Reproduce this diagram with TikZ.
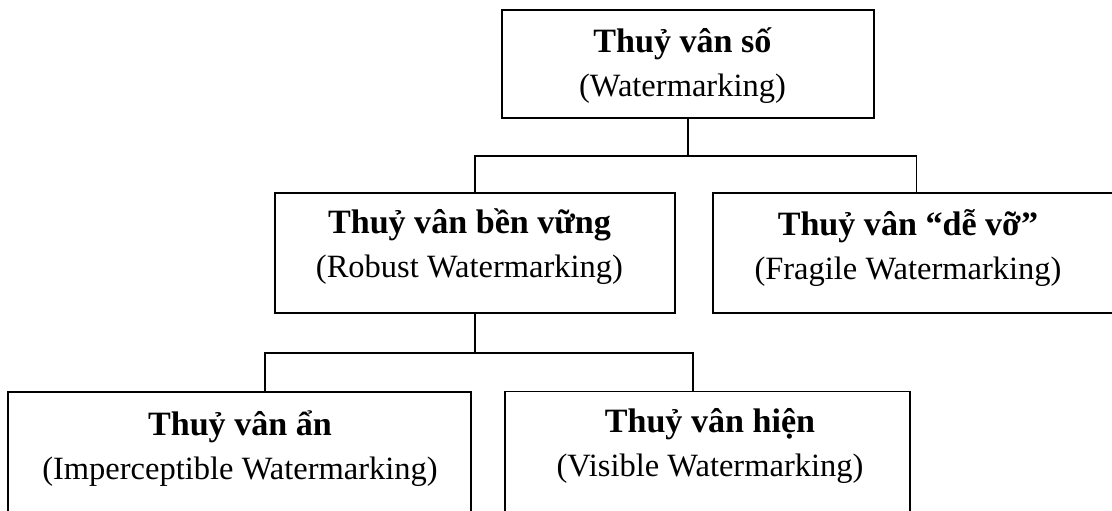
\documentclass[tikz,border=0pt]{standalone}
\usepackage{fontspec}
\setmainfont{Liberation Serif}
\usepackage{tikz}
\tikzset{
	khung/.style = {draw, line width=1.1pt, minimum height=2.4cm, inner sep=0pt},
	chu/.style = {anchor=base, inner sep=0pt, font=\fontsize{18.5}{25}\selectfont},
	noi/.style = {line width=1.1pt}
}
\newcommand{\hailine}[2]{\begin{tabular}[t]{@{}c@{}}{\fontsize{19.4}{25}\selectfont\bfseries #1}\\(#2)\end{tabular}}

\begin{document}
\begin{tikzpicture}
	\useasboundingbox (0,0) rectangle (22.24,10.22);
	\clip (0,0) rectangle (22.24,10.22);
	% khung
	\node [khung, minimum width=7.44cm, minimum height=2.16cm] (so) at (13.76,8.94) {};
	\node [khung, minimum width=8.0cm] (benvung) at (9.5,5.16) {};
	\node [khung, minimum width=8.14cm] (devo) at (18.33,5.16) {};
	\node [khung, minimum width=9.26cm] (an) at (4.79,1.18) {};
	\node [khung, minimum width=8.1cm] (hien) at (14.15,1.19) {};
	% chu
	\node [chu] (so-t) at (13.65,9.16) {\hailine{Thuỷ vân số}{Watermarking}};
	\node [chu] (benvung-t) at (9.39,5.54) {\hailine{Thuỷ vân bền vững}{Robust Watermarking}};
	\node [chu] (devo-t) at (18.16,5.50) {\hailine{Thuỷ vân “dễ vỡ”}{Fragile Watermarking}};
	\node [chu] (an-t) at (4.80,1.50) {\hailine{Thuỷ vân ẩn}{Imperceptible Watermarking}};
	\node [chu] (hien-t) at (14.20,1.56) {\hailine{Thuỷ vân hiện}{Visible Watermarking}};
	% nhanh
	\coordinate (nhanh1) at (13.76,7.10);
	\draw [noi] (so.south) -- (nhanh1) -| (benvung.north);
	\draw [noi] (nhanh1) -| (devo.north);
	\coordinate (nhanh2) at (9.5,3.16);
	\coordinate (trai) at (5.30,3.16);
	\coordinate (phai) at (13.86,3.16);
	\draw [noi] (benvung.south) -- (nhanh2);
	\draw [noi] (trai |- an.north) -- (trai) -- (phai) -- (phai |- hien.north);
\end{tikzpicture}
\end{document}
